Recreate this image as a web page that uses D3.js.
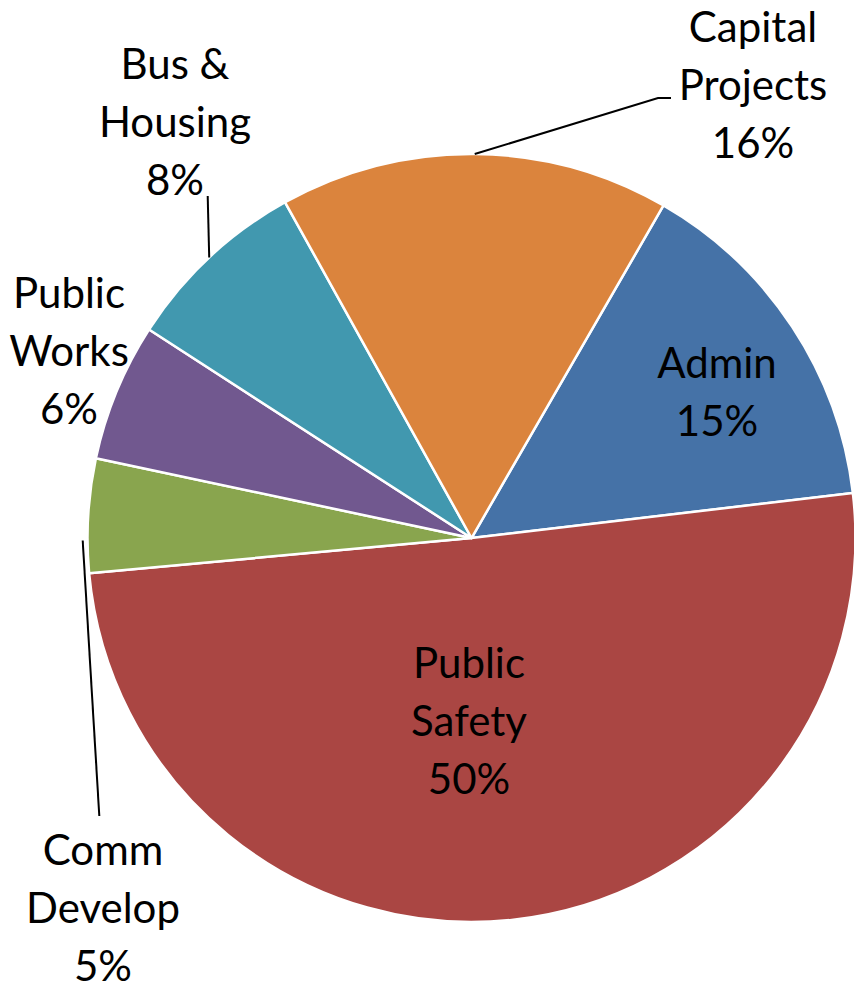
<!DOCTYPE html>
<html>
<head>
<meta charset="utf-8">
<script src="https://cdn.jsdelivr.net/npm/d3@7"></script>
<style>
  html, body { margin: 0; padding: 0; background: #ffffff; }
  svg { display: block; }
  text { font-family: Lato, "Open Sans", sans-serif; fill: #000; }
</style>
</head>
<body>
<svg id="chart" width="854" height="990"></svg>
<script>
// ---- data ----
const categories = ["Admin", "Public Safety", "Comm Develop", "Public Works", "Bus & Housing", "Capital Projects"];
const values = [14.8, 50.4, 4.8, 5.8, 7.8, 16.4];
const labelLines = [["Admin"], ["Public", "Safety"], ["Comm", "Develop"], ["Public", "Works"], ["Bus &", "Housing"], ["Capital", "Projects"]];
const colors = ["#4572A7", "#AA4643", "#89A54E", "#71588F", "#4198AF", "#DB843D"];

// ---- layout ----
const W = 854, H = 990;
const cx = 471.5, cy = 538, R = 384;
const startDeg = 30;
const fontSize = 42;
const lineH = 58;
// label block: x center, first baseline
const labelAnchor = {
  "Admin": [717, 377.7],
  "Public Safety": [469, 678.3],
  "Comm Develop": [103, 864.5],
  "Public Works": [69, 308.3],
  "Bus & Housing": [175, 79.3],
  "Capital Projects": [753, 41.5]
};
// leader lines (annotation paths)
const leaders = {
  "Capital Projects": [[null], [658, 98], [671, 98]],
  "Bus & Housing": [[null], [207.7, 196]],
  "Comm Develop": [[82.7, 540.5], [99.3, 816]]
};

const svg = d3.select("#chart");
const g = svg.append("g").attr("transform", `translate(${cx},${cy})`);

const total = d3.sum(values);
const data = categories.map((c, i) => ({ name: c, value: values[i], color: colors[i], lines: labelLines[i] }));

const start = startDeg * Math.PI / 180;
const pie = d3.pie().value(d => d.value).sort(null)
  .startAngle(start).endAngle(start + 2 * Math.PI);
const arcs = pie(data);
const arc = d3.arc().innerRadius(0).outerRadius(R);

g.selectAll("path.slice").data(arcs).join("path")
  .attr("class", "slice")
  .attr("d", arc)
  .attr("fill", d => d.data.color)
  .attr("stroke", "#ffffff")
  .attr("stroke-width", 2.5)
  .attr("stroke-linejoin", "round");

// leader lines
arcs.forEach(a => {
  const pts = leaders[a.data.name];
  if (!pts) return;
  const mid = (a.startAngle + a.endAngle) / 2;
  const p = pts.map(q => q[0] === null
    ? [cx + R * Math.sin(mid), cy - R * Math.cos(mid)]
    : q);
  svg.append("path")
    .attr("d", d3.line()(p))
    .attr("fill", "none")
    .attr("stroke", "#000")
    .attr("stroke-width", 2);
});

// labels
arcs.forEach(a => {
  const pos = labelAnchor[a.data.name];
  const pct = Math.round(a.data.value / total * 100) + "%";
  const lines = a.data.lines.concat([pct]);
  const t = svg.append("text")
    .attr("text-anchor", "middle")
    .attr("font-size", fontSize);
  lines.forEach((ln, i) => {
    t.append("tspan").attr("x", pos[0]).attr("y", pos[1] + i * lineH).text(ln);
  });
});
</script>
</body>
</html>
